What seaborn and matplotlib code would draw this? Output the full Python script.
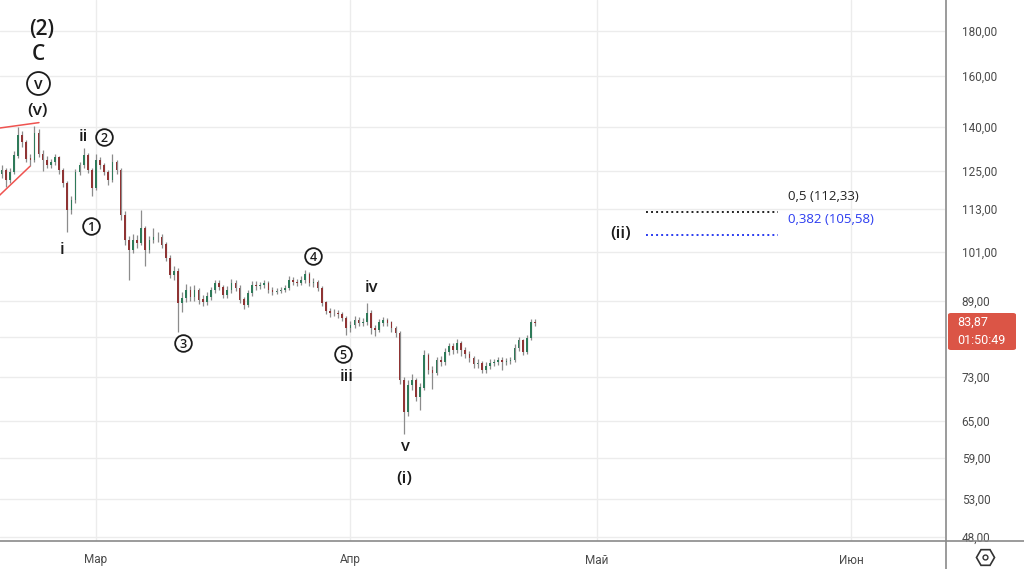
import numpy as np
import pandas as pd
import matplotlib
matplotlib.use("Agg")
import matplotlib.pyplot as plt
import matplotlib.dates as mdates
from matplotlib.lines import Line2D
from matplotlib.patches import FancyBboxPatch
import seaborn as sns

# ---------------- data (12h candles) ----------------
start_time = "2025-02-17 12:00"
first_open = 124.0
closes = [125.2, 122.0, 124.5, 130.0, 137.0, 134.6, 129.0, 128.5, 138.0, 130.5,
          128.5, 126.8, 127.8, 129.5, 125.2, 121.0, 112.8, 115.8, 124.5, 126.8,
          130.2, 125.2, 119.5, 128.5, 126.8, 124.5, 122.0, 127.8, 125.2, 111.3,
          104.3, 101.6, 104.3, 103.5, 107.5, 101.6, 104.3, 105.1, 105.0, 103.0,
          99.5, 95.2, 96.0, 88.5, 89.6, 91.5, 89.9, 91.5, 89.2, 88.7,
          89.9, 91.5, 93.0, 92.2, 90.3, 91.5, 93.2, 92.0, 89.2, 88.0,
          90.8, 92.7, 92.5, 92.7, 93.0, 91.5, 91.0, 91.3, 91.5, 92.0,
          93.9, 93.4, 93.2, 93.9, 95.4, 93.2, 93.4, 92.0, 88.5, 86.6,
          86.1, 86.1, 85.9, 85.0, 82.8, 83.5, 84.6, 84.0, 84.2, 86.1,
          82.8, 82.4, 84.0, 84.6, 84.0, 82.8, 81.8, 72.3, 66.5, 71.4,
          72.3, 69.2, 70.9, 77.2, 74.2, 73.7, 76.2, 75.8, 77.8, 78.9,
          78.2, 79.5, 78.2, 77.4, 76.6, 75.4, 75.6, 74.2, 75.0, 75.6,
          75.8, 76.2, 75.8, 76.0, 76.2, 78.6, 80.3, 77.8, 80.7, 84.2,
          83.87]
highs = [126.8, 126.0, 125.8, 131.5, 140.0, 138.5, 135.5, 130.5, 140.5, 139.2,
         131.8, 129.8, 129.0, 130.6, 130.0, 126.0, 121.8, 117.0, 125.5, 128.0,
         132.5, 131.0, 126.0, 130.5, 129.6, 127.5, 125.2, 130.5, 128.6, 126.0,
         112.5, 105.5, 105.8, 105.6, 112.8, 108.2, 105.5, 107.5, 106.5, 105.8,
         103.8, 100.2, 97.5, 96.8, 91.0, 93.0, 92.5, 92.8, 92.0, 90.3,
         91.0, 92.3, 94.0, 94.0, 92.8, 92.5, 94.2, 93.9, 92.6, 89.9,
         91.6, 93.6, 93.8, 93.5, 94.0, 93.6, 92.2, 92.0, 92.2, 92.8,
         95.0, 94.6, 94.2, 95.0, 96.4, 95.9, 94.5, 94.0, 92.5, 89.0,
         87.4, 87.0, 86.9, 86.5, 85.6, 84.5, 85.5, 85.3, 85.1, 88.5,
         86.8, 83.6, 84.8, 85.3, 85.1, 84.4, 83.3, 82.2, 73.0, 72.4,
         73.5, 72.8, 71.7, 78.3, 77.6, 75.0, 76.9, 77.0, 78.6, 79.7,
         79.6, 80.5, 80.0, 78.8, 78.0, 77.0, 76.4, 76.0, 75.8, 76.4,
         76.5, 76.9, 76.8, 76.7, 76.9, 79.4, 81.0, 80.6, 81.4, 84.9,
         84.8]
lows = [122.5, 119.8, 121.0, 123.8, 129.2, 133.0, 128.0, 126.5, 127.8, 129.5,
        124.8, 125.8, 126.0, 126.9, 124.0, 119.8, 106.5, 111.5, 115.0, 123.6,
        125.8, 124.2, 117.0, 118.8, 125.5, 123.5, 120.5, 121.3, 124.0, 110.0,
        103.0, 94.0, 100.8, 102.2, 102.8, 97.5, 100.9, 103.5, 103.8, 102.0,
        98.6, 94.3, 94.0, 82.0, 86.5, 88.8, 88.9, 89.0, 88.3, 87.8,
        88.0, 89.2, 90.8, 91.4, 89.5, 89.6, 90.9, 91.2, 88.4, 87.1,
        87.5, 90.2, 91.6, 91.8, 92.0, 90.8, 90.4, 90.5, 90.7, 91.0,
        91.5, 92.6, 92.4, 92.6, 93.2, 92.5, 92.3, 91.3, 87.8, 85.9,
        85.3, 85.4, 85.1, 84.3, 81.4, 82.0, 82.9, 83.2, 83.3, 83.6,
        81.5, 81.2, 81.9, 83.4, 83.3, 82.1, 80.9, 71.5, 62.9, 65.8,
        70.5, 68.4, 66.9, 70.4, 73.5, 70.7, 73.2, 75.1, 75.3, 77.2,
        77.4, 77.6, 77.0, 76.6, 75.9, 74.6, 74.7, 73.6, 73.7, 74.5,
        75.0, 75.2, 74.3, 75.2, 75.4, 75.8, 78.0, 77.2, 77.4, 80.2,
        83.3]

price_ticks = [48, 53, 59, 65, 73, 81, 89, 101, 113, 125, 140, 160, 180]
hidden_ticks = [81]  # label covered by the last-price badge
month_ticks = ["2025-03-01", "2025-04-01", "2025-05-01", "2025-06-01"]
month_labels = ["Мар", "Апр", "Май", "Июн"]

fib_levels = [112.33, 105.58]
fib_ratios = ["0,5", "0,382"]
fib_start, fib_end = "2025-05-06 23:00", "2025-05-23 01:00"

last_price_label = "83,87"
countdown_label = "01:50:49"

# ---------------- figure ----------------
sns.set_theme(style="white")
plt.rcParams["font.family"] = ["Open Sans", "DejaVu Sans"]

W, H = 1024, 569
fig = plt.figure(figsize=(W / 100, H / 100), dpi=100)
fig.patch.set_facecolor("white")
ax = fig.add_axes([0, 28 / H, 945 / W, 541 / H])
ax.set_facecolor("white")

times = pd.date_range(pd.Timestamp(start_time), periods=len(closes), freq="12h")
xs = mdates.date2num(times)
opens = [first_open] + closes[:-1]
o = np.array(opens)
c = np.array(closes)
up = c >= o
up_col, dn_col, wick_col = "#2e7a59", "#8f3434", "#8c8c8c"

ax.vlines(xs, lows, highs, color=wick_col, lw=0.9, zorder=2)
ax.bar(xs, np.abs(c - o) + 0.08, bottom=np.minimum(o, c), width=0.2,
       color=np.where(up, up_col, dn_col), linewidth=0, zorder=3)

ax.set_yscale("log")
ax.set_ylim(47.5, 195.2)
mar1 = mdates.date2num(pd.Timestamp("2025-03-01"))
pxd = 8.207
ax.set_xlim(mar1 - 96 / pxd, mar1 + (945 - 96) / pxd)

# ticks / grid
ax.yaxis.tick_right()
ax.yaxis.set_major_locator(matplotlib.ticker.FixedLocator(price_ticks))
ax.yaxis.set_minor_locator(matplotlib.ticker.NullLocator())
ax.set_yticklabels(["" if t in hidden_ticks else f"{t:.2f}".replace(".", ",")
                    for t in price_ticks])
ax.xaxis.set_major_locator(matplotlib.ticker.FixedLocator(
    mdates.date2num(pd.to_datetime(month_ticks))))
ax.set_xticklabels(month_labels)
ax.tick_params(axis="y", length=0, pad=12, labelsize=8.5, labelcolor="#4a4a4a")
ax.tick_params(axis="x", length=0, pad=9, labelsize=8.5, labelcolor="#4a4a4a")
for lab in ax.get_yticklabels() + ax.get_xticklabels():
    lab.set_fontfamily(["Roboto", "DejaVu Sans"])
ax.grid(True, color="#ececec", lw=1)
for s in ax.spines.values():
    s.set_visible(False)

def dx(d):
    return mar1 + d

# wedge trend lines
wedge_upper = ([-12.0, -6.95], [139.6, 141.7])
wedge_lower = ([-12.0, -8.05], [116.6, 126.4])
for xx, yy in (wedge_upper, wedge_lower):
    ax.plot([dx(v) for v in xx], yy, color="#ef5350", lw=1.1, zorder=4)

# fib levels via seaborn
fib_cols = ["#222222", "#2b3cf0"]
fx = mdates.date2num(pd.to_datetime([fib_start, fib_end]))
for lvl, col in zip(fib_levels, fib_cols):
    sns.lineplot(x=fx, y=[lvl, lvl], ax=ax, color=col, lw=1.4,
                 linestyle=(0, (1, 1.6)), zorder=4)
for lvl, ratio, col, ty in zip(fib_levels, fib_ratios, fib_cols, [116.7, 109.9]):
    ax.text(dx(84.3), ty, f"{ratio} ({str(lvl).replace('.', ',')})",
            color=col, fontsize=9.5, va="center", ha="left", zorder=6)

# Elliott wave labels
lab_col = "#1c1c1c"
wave_labels = [("(2)", -6.59, 180.5, 15), ("C", -7.07, 169.5, 15),
               ("(v)", -7.07, 146.1, 12.5), ("ii", -1.59, 136.5, 12),
               ("i", -4.15, 101.6, 12), ("iii", 30.6, 72.9, 12),
               ("iv", 33.54, 92.0, 12), ("v", 37.68, 60.7, 12),
               ("(i)", 37.56, 55.8, 12.5), ("(ii)", 63.9, 105.9, 12.5)]
for t, d, p, fs in wave_labels:
    ax.text(dx(d), p, t, fontsize=fs, color=lab_col, ha="center", va="center",
            fontweight="semibold", zorder=6)

circled = [("v", -7.07, 157.1, 16.5, 11.5), ("1", -0.61, 108.2, 12, 9),
           ("2", 0.98, 136.5, 12, 9), ("3", 10.61, 79.7, 12, 9),
           ("4", 26.46, 100.0, 12, 9), ("5", 30.12, 77.4, 12, 9)]
for t, d, p, ms, fs in circled:
    ax.plot([dx(d)], [p], marker="o", ms=ms, mfc="white", mec=lab_col,
            mew=1.3, zorder=6)
    ax.text(dx(d), p, t, fontsize=fs, color=lab_col, ha="center",
            va="center_baseline", fontweight="semibold", zorder=7)

# pane separators
fig.add_artist(Line2D([0, 1], [1 - 541 / H] * 2, color="#8a8a8a", lw=1.2))
fig.add_artist(Line2D([946 / W] * 2, [0, 1], color="#8a8a8a", lw=1.2))

# last price box
box = FancyBboxPatch((948 / W, 1 - 350 / H), 68 / W, 37 / H,
                     boxstyle="round,pad=0,rounding_size=0.003",
                     transform=fig.transFigure, fc="#db5546", ec="none")
fig.add_artist(box)
fig.text(957 / W, 1 - 322 / H, last_price_label, color="white", fontsize=9,
         va="center", ha="left", family=["Roboto", "DejaVu Sans"])
fig.text(957 / W, 1 - 340 / H, countdown_label, color="white", fontsize=9,
         va="center", ha="left", family=["Roboto", "DejaVu Sans"])

# settings icon
fig.add_artist(Line2D([985 / W], [1 - 557 / H], marker="H", ms=13, mfc="none",
                      mec="#333333", mew=1.2))
fig.add_artist(Line2D([985 / W], [1 - 557 / H], marker="o", ms=3.5, mfc="none",
                      mec="#333333", mew=1.0))

fig.savefig("out.png", dpi=100, facecolor="white")
